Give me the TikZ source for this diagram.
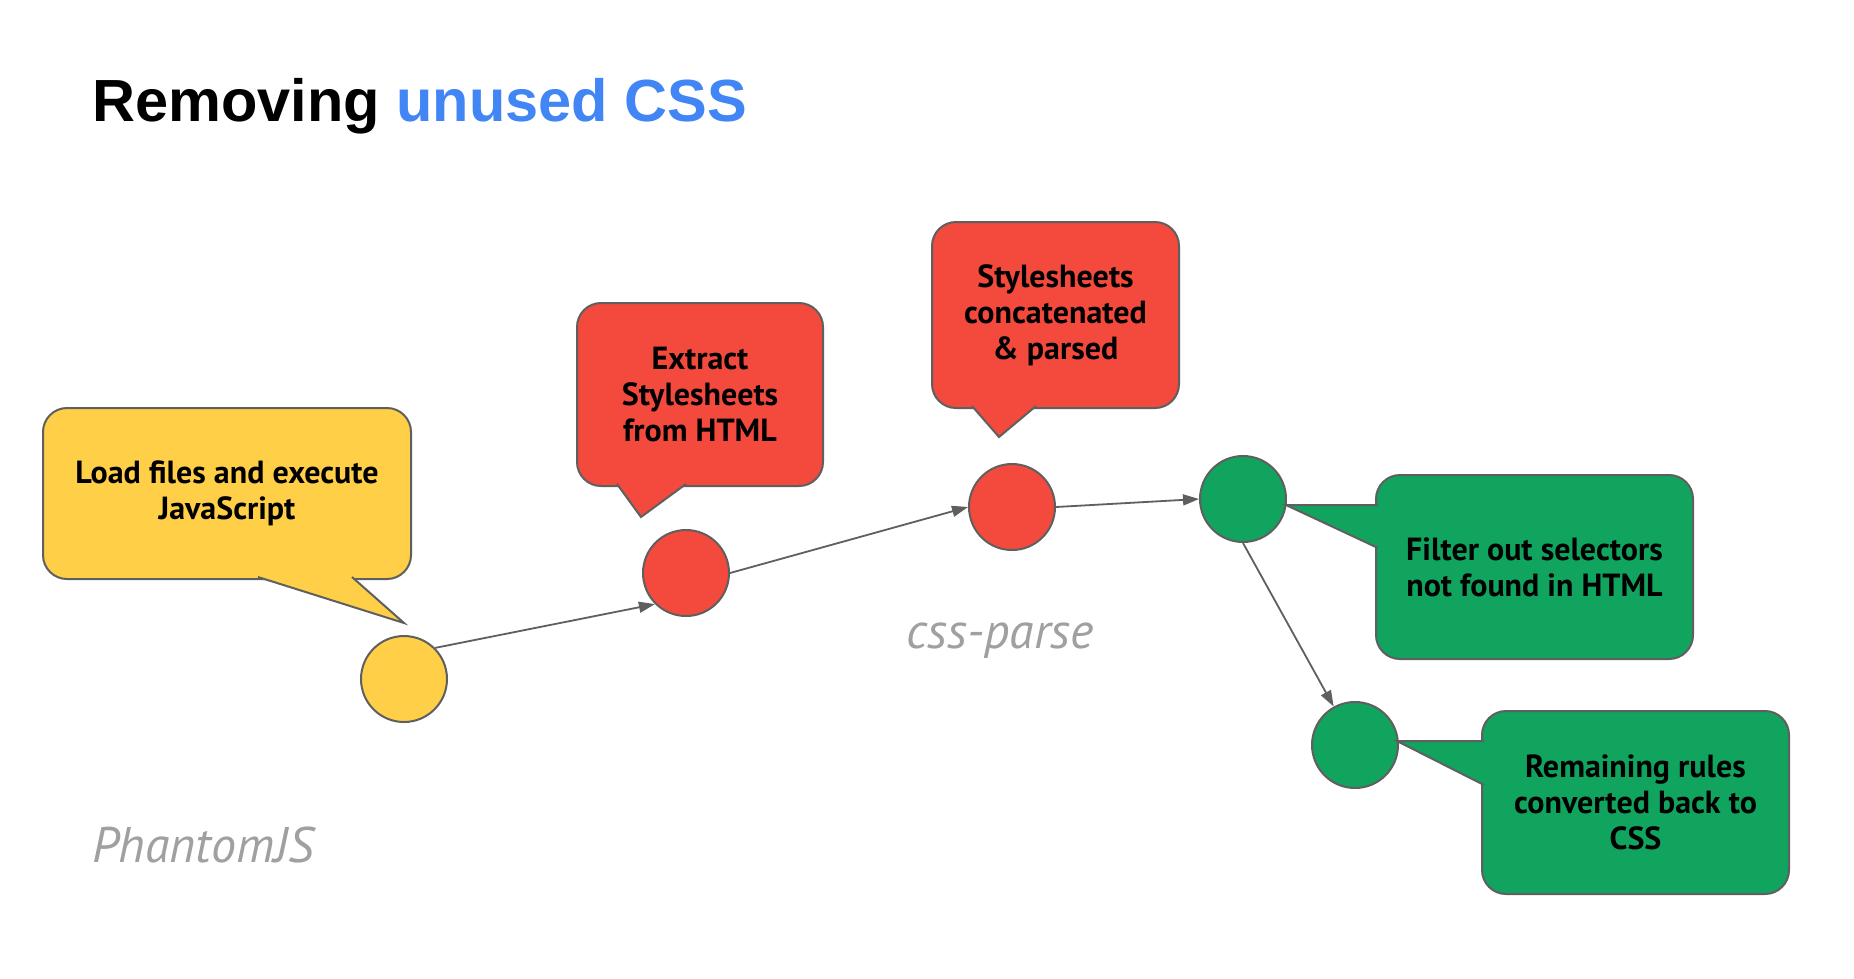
\documentclass[tikz,border=0pt]{standalone}
\usepackage{fontspec}
\setmainfont{Liberation Sans}
\newfontfamily\boxfont{PT Sans}
\usetikzlibrary{arrows.meta, positioning, calc}
\definecolor{cssyellow}{RGB}{255, 207, 72}
\definecolor{cssred}{RGB}{244, 74, 62}
\definecolor{cssgreen}{RGB}{16, 164, 94}
\definecolor{cssblue}{RGB}{66, 133, 244}
\definecolor{edgegray}{RGB}{95, 95, 95}
\definecolor{labelgray}{RGB}{160, 160, 160}
\tikzset{
  bubble/.style={draw=edgegray, line width=2pt, rounded corners=24pt, align=center, inner sep=0pt, outer sep=0pt,
    font=\boxfont\bfseries\fontsize{32}{36}\selectfont},
  stepdot/.style={circle, draw=edgegray, line width=2pt, minimum size=86pt, inner sep=0pt},
  tail/.style={draw=edgegray, line width=2pt, line join=miter},
  flow/.style={draw=edgegray, line width=1.8pt, -{Triangle[length=16pt, width=11pt]}},
  toollabel/.style={text=labelgray, font=\boxfont\itshape\fontsize{50}{60}\selectfont}
}

\begin{document}
\begin{tikzpicture}[x=1pt, y=-1pt]
  \path[fill=white, use as bounding box] (0,0) rectangle (1854,978);

  \node[anchor=base west, inner sep=0pt, font=\bfseries\fontsize{59.5}{70}\selectfont] (title) at (92,121)
    {Removing \textcolor{cssblue}{unused CSS}};

  \node[stepdot, fill=cssyellow] (load) at (404,679) {};
  \node[stepdot, fill=cssred] (extract) at (686,573) {};
  \node[stepdot, fill=cssred] (parse) at (1012,507) {};
  \node[stepdot, fill=cssgreen] (filter) at (1243,499) {};
  \node[stepdot, fill=cssgreen] (convert) at (1355,745) {};

  \draw[flow] (load.45) -- (extract.225);
  \draw[flow] (extract.east) -- (parse.west);
  \draw[flow] (parse.east) -- (filter.west);
  \draw[flow] (filter.south) -- (convert);

  \node[bubble, fill=cssyellow, minimum width=368pt, minimum height=171pt] (loadbox) at (227,493.5)
    {Load files and execute\\JavaScript};
  \node[bubble, fill=cssred, minimum width=246pt, minimum height=183pt] (extractbox) at (700,394.5)
    {Extract\\Stylesheets\\from HTML};
  \node[bubble, fill=cssred, minimum width=247pt, minimum height=186pt] (parsebox) at (1055.5,315)
    {Stylesheets\\concatenated\\\& parsed};
  \node[bubble, fill=cssgreen, minimum width=317pt, minimum height=184pt] (filterbox) at (1534.5,567)
    {Filter out selectors\\not found in HTML};
  \node[bubble, fill=cssgreen, minimum width=307pt, minimum height=183pt] (convertbox) at (1635.5,802.5)
    {Remaining rules\\converted back to\\CSS};

  \coordinate (loadtip) at (404,623);
  \coordinate (extracttip) at (641,517);
  \coordinate (parsetip) at (999,437);
  \coordinate (filtertip) at (1286,505);
  \coordinate (converttip) at (1397,741);

  \filldraw[tail, fill=cssyellow] ($(loadbox.south west)+(215,-2)$) -- (loadtip) -- ($(loadbox.south west)+(309,-2)$);
  \filldraw[tail, fill=cssred] ($(extractbox.south west)+(40,-2)$) -- (extracttip) -- ($(extractbox.south west)+(109,-2)$);
  \filldraw[tail, fill=cssred] ($(parsebox.south west)+(40,-2)$) -- (parsetip) -- ($(parsebox.south west)+(104,-2)$);
  \filldraw[tail, fill=cssgreen] ($(filterbox.north west)+(2,30)$) -- (filtertip) -- ($(filterbox.north west)+(2,73)$);
  \filldraw[tail, fill=cssgreen] ($(convertbox.north west)+(2,30)$) -- (converttip) -- ($(convertbox.north west)+(2,74)$);

  \node[toollabel] (cssparse) at (1000,641) {css-parse};
  \node[toollabel, anchor=west, inner sep=0pt] (phantom) at (92,845) {PhantomJS};
\end{tikzpicture}
\end{document}
